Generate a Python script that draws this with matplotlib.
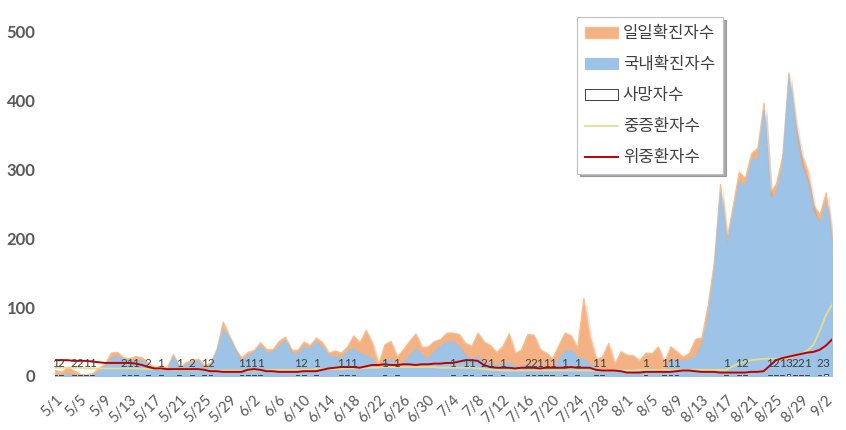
import numpy as np
import pandas as pd
import matplotlib
matplotlib.use('Agg')
import matplotlib.pyplot as plt
import matplotlib.transforms as mtransforms

plt.rcParams['font.family'] = ['Lato', 'Noto Sans CJK KR', 'DejaVu Sans']

# 2020-05-01 ~ 2020-09-03, one value per day
dates = pd.date_range('2020-05-01', '2020-09-03')
date_labels = [f'{d.month}/{d.day}' for d in dates]

# 일일확진자수
total = [
    9, 6, 13, 8, 3, 2, 4, 12, 18, 34, 35, 27, 26, 29, 27, 19, 13, 15, 13, 32, 12, 20, 23, 25, 16, 19, 40, 79, 58, 39, 27,
    35, 38, 49, 39, 39, 51, 57, 38, 38, 50, 45, 56, 49, 34, 37, 34, 43, 59, 49, 67, 48, 17, 46, 51, 28, 39, 51, 62, 42, 43,
    51, 54, 63, 63, 61, 48, 44, 63, 50, 45, 35, 44, 62, 33, 39, 61, 60, 39, 34, 26, 45, 63, 59, 41, 113, 58, 25, 28, 48, 18, 36,
    31, 30, 23, 34, 33, 43, 20, 43, 36, 28, 34, 54, 56, 103, 166, 279, 197, 246, 297, 288, 324, 332, 397, 266, 280, 320, 441, 371, 323, 299, 248,
    235, 267, 195,
]
# 국내확진자수
domestic = [
    2, 1, 3, 2, 1, 1, 2, 6, 16, 26, 29, 24, 22, 22, 23, 15, 9, 10, 7, 29, 10, 17, 19, 22, 10, 16, 37, 68, 55, 36, 21,
    30, 35, 45, 33, 36, 44, 52, 34, 32, 43, 40, 50, 42, 30, 28, 26, 36, 40, 34, 30, 26, 11, 22, 24, 16, 20, 30, 40, 31, 26,
    36, 44, 50, 50, 43, 30, 25, 28, 20, 18, 16, 18, 20, 14, 15, 17, 15, 16, 14, 12, 25, 36, 38, 28, 25, 18, 12, 6, 10, 8, 12,
    8, 10, 9, 10, 12, 8, 6, 24, 23, 22, 25, 28, 47, 85, 155, 267, 188, 235, 283, 276, 315, 316, 387, 258, 266, 307, 434, 359, 308, 283, 238,
    222, 253, 189,
]
# 중증환자수
severe = [
    12, 12, 12, 12, 12, 11, 11, 11, 11, 11, 11, 11, 11, 11, 10, 10, 10, 10, 10, 9, 9, 9, 9, 9, 9, 8, 8, 8, 8, 8, 8,
    8, 8, 8, 8, 9, 9, 9, 9, 9, 9, 9, 10, 10, 10, 10, 10, 11, 11, 11, 12, 12, 12, 13, 13, 13, 13, 13, 13, 13, 13,
    13, 12, 12, 12, 12, 12, 12, 11, 10, 9, 9, 8, 8, 8, 8, 8, 8, 8, 8, 8, 8, 8, 8, 8, 8, 8, 8, 8, 8, 8, 8,
    8, 8, 9, 9, 9, 9, 9, 9, 9, 9, 9, 9, 9, 9, 9, 9, 9, 14, 18, 21, 23, 24, 25, 25, 25, 25, 26, 29, 32, 37, 45,
    65, 88, 104,
]
# 위중환자수
critical = [
    23, 23, 23, 22, 22, 22, 21, 20, 19, 19, 19, 19, 19, 18, 16, 13, 11, 11, 10, 10, 10, 10, 10, 10, 9, 7, 7, 6, 6, 6, 6,
    9, 10, 9, 7, 7, 6, 6, 6, 6, 7, 7, 7, 9, 11, 12, 13, 13, 13, 12, 14, 16, 16, 17, 16, 16, 17, 17, 16, 17, 17,
    18, 18, 19, 19, 21, 23, 23, 22, 16, 13, 12, 12, 12, 11, 12, 12, 12, 11, 12, 12, 12, 12, 13, 12, 12, 12, 9, 8, 8, 8, 7,
    5, 5, 5, 6, 6, 6, 6, 6, 7, 8, 8, 7, 6, 6, 6, 5, 5, 5, 5, 5, 6, 6, 7, 15, 23, 26, 28, 30, 32, 34, 35,
    38, 44, 53,
]
# 사망자수 (day index: deaths)
death_days = [0, 1, 3, 4, 5, 6, 11, 12, 13, 15, 17, 20, 22, 24, 25, 30, 31, 32, 33, 39, 40, 42, 46, 47, 48,
              53, 55, 64, 66, 67, 69, 70, 72, 76, 77, 78, 79, 80, 82, 84, 87, 88, 95, 98, 99, 100,
              108, 110, 111, 115, 116, 117, 118, 119, 120, 121, 123, 124]
death_vals = [1, 2, 2, 2, 1, 1, 2, 1, 1, 2, 1, 1, 2, 1, 2, 1, 1, 1, 1, 1, 2, 1, 1, 1, 1,
              1, 1, 1, 1, 1, 2, 1, 1, 2, 2, 1, 1, 1, 1, 1, 1, 1, 1, 1, 1, 1,
              1, 1, 2, 1, 2, 1, 3, 2, 2, 1, 2, 3]

x = np.arange(len(dates))
deaths = np.zeros(len(dates))
deaths[death_days] = death_vals

fig = plt.figure(figsize=(8.46, 4.30), dpi=100)
ax = fig.add_axes([55 / 846, 1 - 376 / 430, 777 / 846, 344 / 430])

shadow = mtransforms.offset_copy(ax.transData, fig=fig, x=3, y=-3, units='dots')
ax.fill_between(x, 0, total, color='#808080', alpha=0.18, lw=0, transform=shadow)
ax.fill_between(x, 0, total, facecolor='#F4B183', edgecolor='#F6BF8E', lw=1, label='일일확진자수')
ax.fill_between(x, 0, domestic, color='#808080', alpha=0.22, lw=0, transform=shadow)
ax.fill_between(x, 0, domestic, facecolor='#9DC3E6', edgecolor='#9DC3E6', lw=0.8, label='국내확진자수')

ax.bar(x, deaths, width=0.6, facecolor='white', edgecolor='#404040', lw=0.7, label='사망자수')
for i in death_days:
    ax.text(x[i], 18, f'{int(deaths[i])}', ha='center', va='center', fontsize=8.5, color='#404040')

ax.plot(x, severe, color='#E6DC8E', lw=1.3, label='중증환자수')
ax.plot(x, critical, color='#C00000', lw=1.4, label='위중환자수')

ax.set_xlim(0, len(dates) - 1)
ax.set_ylim(0, 500)
ax.set_yticks(range(0, 501, 100))
ax.set_xticks(x[:-1:4])
ax.set_xticklabels(date_labels[:-1:4], rotation=45, ha='right', va='top',
                   rotation_mode='anchor', fontsize=10.5, color='#595959')
for t in ax.get_yticklabels():
    t.set_fontweight('bold')
    t.set_fontsize(12)
    t.set_color('#595959')
ax.tick_params(axis='y', length=0, pad=14)
ax.tick_params(axis='x', length=0, pad=12)
for s in ax.spines.values():
    s.set_visible(False)

handles, labels = ax.get_legend_handles_labels()
order = ['일일확진자수', '국내확진자수', '사망자수', '중증환자수', '위중환자수']
handles = [handles[labels.index(n)] for n in order]
leg = ax.legend(handles, order, loc='upper left', bbox_to_anchor=(577 / 846, 1 - 17 / 430),
                bbox_transform=fig.transFigure, borderaxespad=0, fontsize=12,
                frameon=True, fancybox=False, shadow={'color': '0.45', 'alpha': 0.6},
                handlelength=1.95, handletextpad=0.3, labelspacing=0.9,
                borderpad=0.5, labelcolor='#404040')
leg.get_frame().set_edgecolor('#BFBFBF')
leg.get_frame().set_linewidth(0.8)

fig.savefig('out.png', dpi=100)
